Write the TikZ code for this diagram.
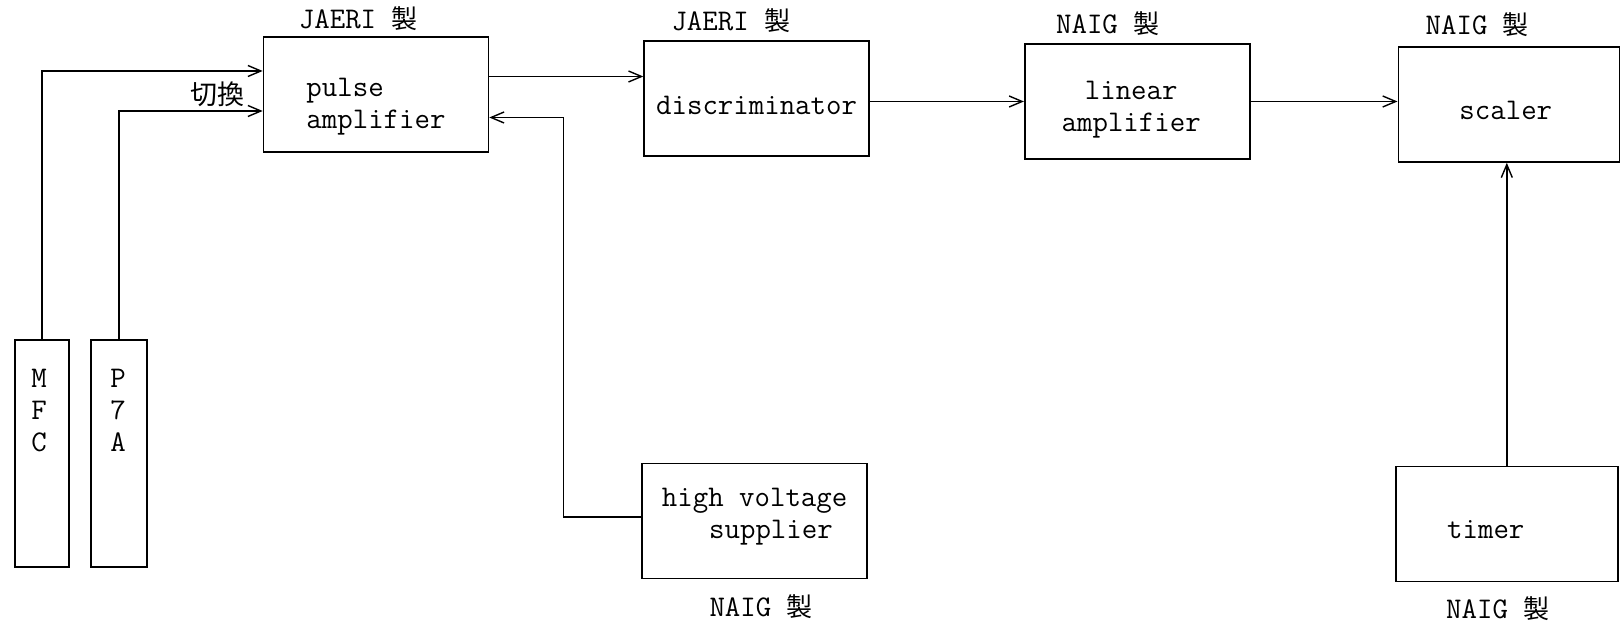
\documentclass[tikz,border=0pt]{standalone}
\usepackage{fontspec}
\newfontfamily\cjk{Noto Sans CJK JP}
\usetikzlibrary{arrows.meta, positioning}

\newcommand{\maker}[1]{#1\ {\cjk\fontsize{26}{26}\selectfont 製}}

\begin{document}
\begin{tikzpicture}[
        x=1pt, y=1pt,
        node distance=154pt,
        font=\fontsize{30}{32}\selectfont\ttfamily,
        unit/.style={
            rectangle,
            draw=black,
            line width=1.6pt,
            minimum width=225pt,
            minimum height=115pt,
            inner sep=0pt
        },
        tube/.style={
            rectangle,
            draw=black,
            line width=1.6pt,
            minimum height=227pt,
            inner sep=0pt
        },
        inside/.style={
            inner sep=0pt,
            align=center
        },
        letters/.style={
            align=center,
            inner sep=0pt,
            anchor=north
        },
        made/.style={
            inner sep=0pt
        },
        arrow/.style={
            line width=1.6pt,
            -{Straight Barb[length=13pt, width=11pt, line width=1.4pt]}
        }
        ]
        \useasboundingbox (0,0) rectangle (1624,623);

        % upper row
        \node (pa) [unit, label={[inside, align=left, yshift=-12pt]center:pulse\\amplifier}] at (376,528.5) {};
        \node (disc) [unit, right=of pa, yshift=-4pt, label={[inside, yshift=-7pt]center:discriminator}] {};
        \node (lin) [unit, right=of disc, yshift=-3pt, label={[inside, xshift=-6pt, yshift=-8pt]center:linear\\amplifier}] {};
        \node (scal) [unit, minimum width=221pt, right=147pt of lin, yshift=-3pt, label={[inside, xshift=-3pt, yshift=-6pt]center:scaler}] {};

        % lower row
        \node (hv) [unit, below=306pt of disc, xshift=-2pt, label={[inside, align=left, yshift=4pt]center:high voltage\\\hspace*{1.575em}supplier}] {};
        \node (tim) [unit, minimum width=222pt, below=303pt of scal, xshift=-2pt, label={[inside, xshift=-21pt, yshift=-5pt]center:timer}] {};

        % detectors
        \node (mfc) [tube, minimum width=54pt] at (42,169.5) {};
        \node (p7a) [tube, minimum width=56pt] at (119,169.5) {};
        \node (mfct) [letters] at ([xshift=-3pt,yshift=-30pt]mfc.north) {M\\F\\C};
        \node (p7at) [letters] at ([xshift=-1pt,yshift=-30pt]p7a.north) {P\\7\\A};

        % makers
        \node (pam) [made, anchor=base west] at ([xshift=36pt,yshift=8pt]pa.north west) {\maker{JAERI}};
        \node (discm) [made, anchor=base west] at ([xshift=28pt,yshift=10pt]disc.north west) {\maker{JAERI}};
        \node (linm) [made, anchor=base west] at ([xshift=32pt,yshift=10pt]lin.north west) {\maker{NAIG}};
        \node (scalm) [made, anchor=base west] at ([xshift=28pt,yshift=12pt]scal.north west) {\maker{NAIG}};
        \node (hvm) [made, anchor=base west] at ([xshift=68pt,yshift=-37pt]hv.south west) {\maker{NAIG}};
        \node (timm) [made, anchor=base west] at ([xshift=51pt,yshift=-36pt]tim.south west) {\maker{NAIG}};

        \node (sw) [made, anchor=east, font=\cjk\fontsize{27}{27}\selectfont] at ([xshift=-18pt]pa.west) {切換};

        % signal lines
        \draw [arrow] (mfc.north) |- ([yshift=23.5pt]pa.west);
        \draw [arrow] (p7a.north) |- ([yshift=-16.5pt]pa.west);
        \draw [arrow] ([yshift=18pt]pa.east) -- ([yshift=18pt]pa.east -| disc.west);
        \draw [arrow] (disc.east |- lin.west) -- (lin.west);
        \draw [arrow] (lin.east) -- (lin.east -| scal.west);
        \draw [arrow] ([yshift=4pt]hv.west) -| ([xshift=74pt,yshift=-23pt]pa.east) -- ([yshift=-23pt]pa.east);
        \draw [arrow] (tim.north) -- (tim.north |- scal.south);

    \end{tikzpicture}
\end{document}
